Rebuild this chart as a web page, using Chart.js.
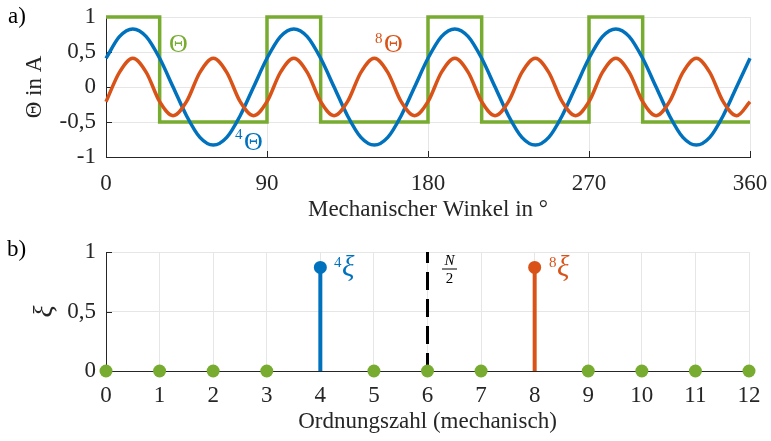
<!DOCTYPE html>
<html><head><meta charset="utf-8">
<script src="https://cdn.jsdelivr.net/npm/chart.js@4/dist/chart.umd.min.js"></script>
<style>
html,body{margin:0;padding:0;background:#fff;}
#wrap{position:relative;width:771px;height:441px;overflow:hidden;background:#fff;}
#c1{position:absolute;left:0;top:0;}
#c2{position:absolute;left:0;top:226px;}
</style></head><body>
<div id="wrap">
<canvas id="c1" width="771" height="226"></canvas>
<canvas id="c2" width="771" height="215"></canvas>
</div>
<script>
// ---------- data: panel a) ----------
const angleDeg = [0,7.5,15,22.5,30,37.5,45,52.5,60,67.5,75,82.5,90,97.5,105,112.5,120,127.5,135,142.5,150,157.5,165,172.5,180,187.5,195,202.5,210,217.5,225,232.5,240,247.5,255,262.5,270,277.5,285,292.5,300,307.5,315,322.5,330,337.5,345,352.5,360];
const theta4 = [0.41,0.72,0.83,0.72,0.41,0,-0.41,-0.72,-0.83,-0.72,-0.41,0,
                0.41,0.72,0.83,0.72,0.41,0,-0.41,-0.72,-0.83,-0.72,-0.41,0,
                0.41,0.72,0.83,0.72,0.41,0,-0.41,-0.72,-0.83,-0.72,-0.41,0,
                0.41,0.72,0.83,0.72,0.41,0,-0.41,-0.72,-0.83,-0.72,-0.41,0,0.41];
const theta8 = [-0.21,0.21,0.41,0.21,-0.21,-0.41,-0.21,0.21,0.41,0.21,-0.21,-0.41,
                -0.21,0.21,0.41,0.21,-0.21,-0.41,-0.21,0.21,0.41,0.21,-0.21,-0.41,
                -0.21,0.21,0.41,0.21,-0.21,-0.41,-0.21,0.21,0.41,0.21,-0.21,-0.41,
                -0.21,0.21,0.41,0.21,-0.21,-0.41,-0.21,0.21,0.41,0.21,-0.21,-0.41,-0.21];
const squareX = [0,30,30,90,90,120,120,180,180,210,210,270,270,300,300,360];
const squareY = [1,1,-0.5,-0.5,1,1,-0.5,-0.5,1,1,-0.5,-0.5,1,1,-0.5,-0.5];
const xTicksA = [0,90,180,270,360];
const yTicksA = [-1,-0.5,0,0.5,1];
const yTickLabelsA = ['-1','-0,5','0','0,5','1'];

// ---------- data: panel b) ----------
const greenOrders = [0,1,2,3,5,6,7,9,10,11,12];
const greenXi = [0,0,0,0,0,0,0,0,0,0,0];
const order4 = 4, xi4 = 0.87;
const order8 = 8, xi8 = 0.87;
const halfN = 6;
const xTicksB = [0,1,2,3,4,5,6,7,8,9,10,11,12];
const yTicksB = [0,0.5,1];
const yTickLabelsB = ['0','0,5','1'];

// ---------- styles ----------
const BLUE='#0072BD', ORANGE='#D95319', GREEN='#77AC30', TXT='#262626', GRID='#e6e6e6';
const SERIF='"Liberation Serif","Times New Roman",serif';
const tickFont = {family:SERIF, size:23};

function fixBox(w,h){
  return function(scale){
    if(w!==null) scale.width=w;
    if(h!==null) scale.height=h;
    scale.paddingLeft=0; scale.paddingRight=0; scale.paddingTop=0; scale.paddingBottom=0;
  };
}
function setTicks(vals){ return function(scale){ scale.ticks = vals.map(v=>({value:v})); }; }

const inwardTicks = {
  id:'inwardTicks',
  beforeDatasetsDraw(chart){
    const ctx=chart.ctx, a=chart.chartArea, xs=chart.scales.x, ys=chart.scales.y;
    ctx.save(); ctx.strokeStyle=TXT; ctx.lineWidth=1;
    xs.ticks.forEach(t=>{const p=Math.round(xs.getPixelForValue(t.value))+0.5;
      ctx.beginPath(); ctx.moveTo(p,a.bottom); ctx.lineTo(p,a.bottom-6); ctx.stroke();});
    ys.ticks.forEach(t=>{const p=Math.round(ys.getPixelForValue(t.value))+0.5;
      ctx.beginPath(); ctx.moveTo(a.left,p); ctx.lineTo(a.left+6,p); ctx.stroke();});
    ctx.restore();
  }
};

function txt(ctx,s,x,y,font,color,align){
  ctx.font=font; ctx.fillStyle=color; ctx.textAlign=align||'left'; ctx.textBaseline='alphabetic';
  ctx.fillText(s,x,y);
}

const labelsA = {
  id:'labelsA',
  afterDraw(chart){
    const ctx=chart.ctx; ctx.save();
    txt(ctx,'a)',8,23,'23px '+SERIF,'#000');
    txt(ctx,'\u0398',169,52,'26px '+SERIF,GREEN);
    txt(ctx,'8',375,43,'15px '+SERIF,ORANGE);
    txt(ctx,'\u0398',384,52,'26px '+SERIF,ORANGE);
    txt(ctx,'4',235,139,'15px '+SERIF,BLUE);
    txt(ctx,'\u0398',244,150,'26px '+SERIF,BLUE);
    ctx.restore();
  }
};
const labelsB = {
  id:'labelsB',
  afterDraw(chart){
    const ctx=chart.ctx; ctx.save();
    const o=-226;
    txt(ctx,'b)',7,256+o,'23px '+SERIF,'#000');
    txt(ctx,'4',334,267+o,'15px '+SERIF,BLUE);
    txt(ctx,'\u03BE',342,276+o,'italic 29px '+SERIF,BLUE);
    txt(ctx,'8',549,267+o,'15px '+SERIF,ORANGE);
    txt(ctx,'\u03BE',557,276+o,'italic 29px '+SERIF,ORANGE);
    txt(ctx,'N',449.5,265+o,'italic 15px '+SERIF,'#000','center');
    ctx.fillStyle='#000'; ctx.fillRect(442,268.5+o,15,1);
    txt(ctx,'2',449.5,283+o,'15px '+SERIF,'#000','center');
    ctx.restore();
  }
};

// ---------- chart a) ----------
new Chart(document.getElementById('c1'), {
  type:'line',
  data:{datasets:[
    {label:'8Θ', data:angleDeg.map((x,i)=>({x:x,y:theta8[i]})), borderColor:ORANGE, borderWidth:3.5,
     pointRadius:0, cubicInterpolationMode:'monotone', clip:false, order:1},
    {label:'4Θ', data:angleDeg.map((x,i)=>({x:x,y:theta4[i]})), borderColor:BLUE, borderWidth:3.5,
     pointRadius:0, cubicInterpolationMode:'monotone', clip:false, order:2},
    {label:'Θ', data:squareX.map((x,i)=>({x:x,y:squareY[i]})), borderColor:GREEN, borderWidth:3.5,
     pointRadius:0, tension:0, clip:false, order:3, borderJoinStyle:'miter'}
  ]},
  options:{
    responsive:false, animation:false, devicePixelRatio:1,
    layout:{padding:{left:0,right:21,top:17,bottom:0}},
    plugins:{legend:{display:false}, tooltip:{enabled:false}},
    scales:{
      x:{type:'linear', min:0, max:360,
        afterBuildTicks:setTicks(xTicksA), afterFit:fixBox(null,69),
        grid:{color:GRID, drawTicks:false}, border:{color:TXT, width:1},
        ticks:{font:tickFont, color:TXT, padding:13, maxRotation:0, autoSkip:false},
        title:{display:true, text:'Mechanischer Winkel in °', font:tickFont, color:TXT, padding:{top:0,bottom:2}}},
      y:{type:'linear', min:-1, max:1,
        afterBuildTicks:setTicks(yTicksA), afterFit:fixBox(106,null),
        grid:{color:GRID, drawTicks:false}, border:{color:TXT, width:1},
        ticks:{font:tickFont, color:TXT, padding:10, autoSkip:false,
          callback:(v)=>yTickLabelsA[yTicksA.indexOf(v)]},
        title:{display:true, text:'\u0398 in A', font:tickFont, color:TXT, padding:{top:21,bottom:0}}}
    }
  },
  plugins:[inwardTicks, labelsA]
});

// ---------- chart b) ----------
new Chart(document.getElementById('c2'), {
  type:'line',
  data:{datasets:[
    {label:'green', data:greenOrders.map((x,i)=>({x:x,y:greenXi[i]})), showLine:false,
     pointRadius:6.5, pointBackgroundColor:GREEN, pointBorderColor:GREEN, pointBorderWidth:0, clip:false, order:1},
    {label:'4xi', data:[{x:order4,y:0},{x:order4,y:xi4}], borderColor:BLUE, borderWidth:4,
     pointRadius:[0,6.5], pointBackgroundColor:BLUE, pointBorderColor:BLUE, pointBorderWidth:0, clip:false, order:2},
    {label:'8xi', data:[{x:order8,y:0},{x:order8,y:xi8}], borderColor:ORANGE, borderWidth:4,
     pointRadius:[0,6.5], pointBackgroundColor:ORANGE, pointBorderColor:ORANGE, pointBorderWidth:0, clip:false, order:3},
    {label:'N/2', data:[{x:halfN,y:0},{x:halfN,y:1}], borderColor:'#000', borderWidth:3, borderDash:[18,9],
     pointRadius:0, clip:false, order:4}
  ]},
  options:{
    responsive:false, animation:false, devicePixelRatio:1,
    layout:{padding:{left:0,right:22,top:26,bottom:0}},
    plugins:{legend:{display:false}, tooltip:{enabled:false}},
    scales:{
      x:{type:'linear', min:0, max:12,
        afterBuildTicks:setTicks(xTicksB), afterFit:fixBox(null,70),
        grid:{color:GRID, drawTicks:false}, border:{color:TXT, width:1},
        ticks:{font:tickFont, color:TXT, padding:11, maxRotation:0, autoSkip:false},
        title:{display:true, text:'Ordnungszahl (mechanisch)', font:tickFont, color:TXT, padding:{top:0,bottom:5}}},
      y:{type:'linear', min:0, max:1,
        afterBuildTicks:setTicks(yTicksB), afterFit:fixBox(106,null),
        grid:{color:GRID, drawTicks:false}, border:{color:TXT, width:1},
        ticks:{font:tickFont, color:TXT, padding:10, autoSkip:false,
          callback:(v)=>yTickLabelsB[yTicksB.indexOf(v)]},
        title:{display:true, text:'\u03BE', font:{family:SERIF, size:28, style:'italic'}, color:TXT, padding:{top:28,bottom:0}}}
    }
  },
  plugins:[inwardTicks, labelsB]
});
</script>
</body></html>
